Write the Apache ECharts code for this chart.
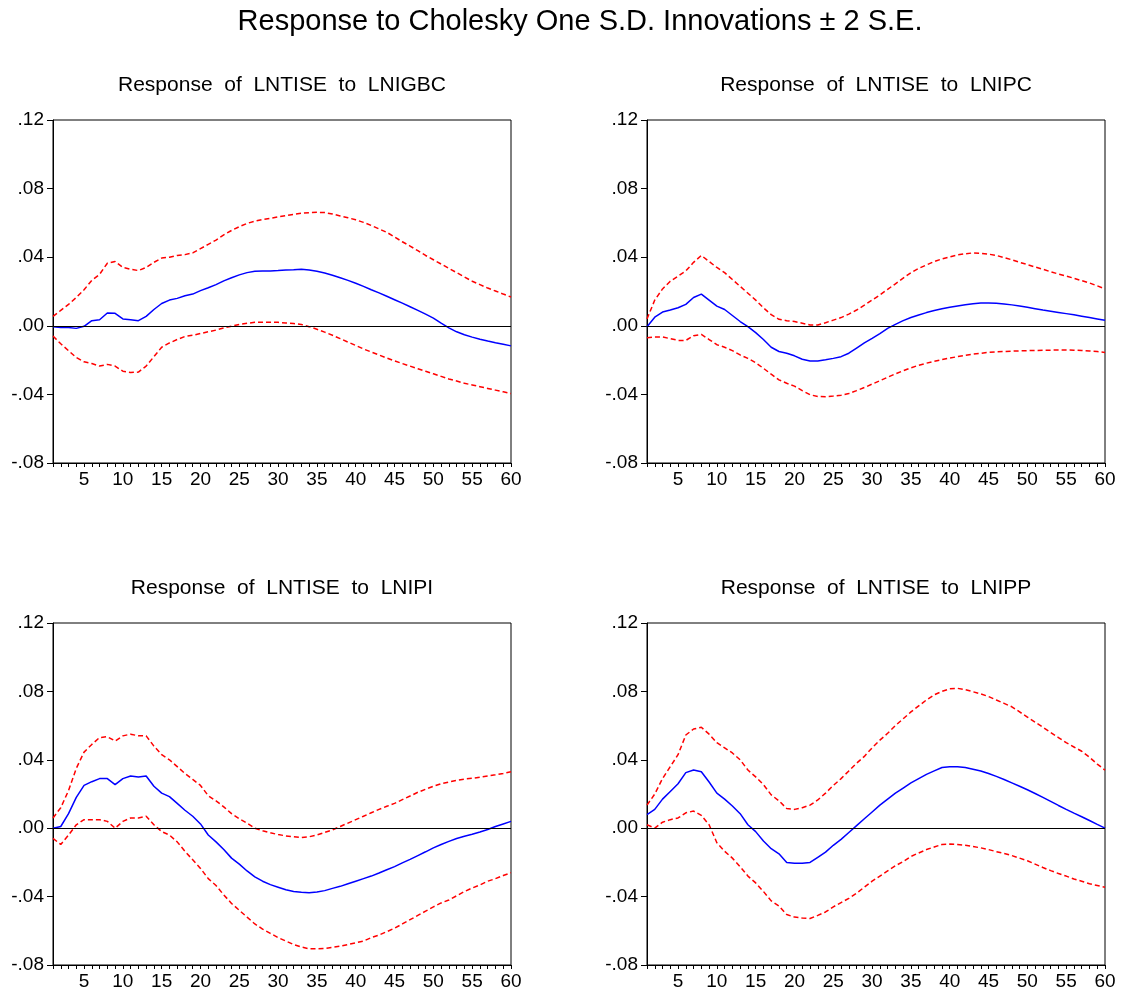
<!DOCTYPE html>
<html>
<head>
<meta charset="utf-8">
<script src="https://cdn.jsdelivr.net/npm/echarts@6/dist/echarts.min.js"></script>
<style>
html,body{margin:0;padding:0;background:#fff;}
#chart{width:1125px;height:996px;}
</style>
</head>
<body>
<div id="chart"></div>
<script>
const mainTitle = 'Response to Cholesky One S.D. Innovations \u00b1 2 S.E.';
const panelTitles = [
  'Response  of  LNTISE  to  LNIGBC',
  'Response  of  LNTISE  to  LNIPC',
  'Response  of  LNTISE  to  LNIPI',
  'Response  of  LNTISE  to  LNIPP'
];
const periods = Array.from({length: 60}, (_, i) => i + 1);
const yTicks = [-0.08, -0.04, 0, 0.04, 0.08, 0.12];

// Panel 1: LNIGBC
const irfIGBC = [-0.0005,-0.001,-0.001,-0.0015,-0.0003,0.003,0.0035,0.0075,0.0073,0.004,
  0.0035,0.003,0.0055,0.0095,0.013,0.015,0.016,0.0175,0.0185,0.0205,
  0.0222,0.024,0.0262,0.028,0.0297,0.031,0.0318,0.032,0.032,0.0322,
  0.0325,0.0327,0.033,0.0326,0.0318,0.0308,0.0295,0.028,0.0265,0.0248,
  0.023,0.021,0.0192,0.0172,0.0152,0.0132,0.0111,0.009,0.0068,0.0045,
  0.0015,-0.0012,-0.0035,-0.0052,-0.0066,-0.0078,-0.0089,-0.0099,-0.0108,-0.0117];
const upIGBC = [0.0055,0.009,0.0125,0.0165,0.021,0.0265,0.030,0.0365,0.0375,0.034,
  0.033,0.0322,0.034,0.037,0.0395,0.040,0.041,0.0415,0.0425,0.045,
  0.0475,0.050,0.053,0.0556,0.0578,0.0597,0.061,0.062,0.0627,0.0635,
  0.0643,0.065,0.0656,0.066,0.0662,0.066,0.0652,0.064,0.063,0.0618,
  0.0603,0.0585,0.0565,0.0545,0.0518,0.049,0.0465,0.0438,0.041,0.0385,
  0.036,0.0335,0.031,0.0285,0.026,0.024,0.022,0.0203,0.0185,0.0168];
const loIGBC = [-0.006,-0.0105,-0.0145,-0.0185,-0.021,-0.022,-0.0235,-0.0225,-0.0235,-0.0265,
  -0.0272,-0.027,-0.0235,-0.018,-0.0125,-0.010,-0.008,-0.0062,-0.0055,-0.0045,
  -0.0035,-0.0025,-0.0012,-0.0002,0.0008,0.0015,0.002,0.002,0.002,0.002,
  0.0017,0.0013,0.0008,-0.0005,-0.002,-0.0037,-0.0055,-0.0075,-0.0095,-0.0115,
  -0.0135,-0.0153,-0.017,-0.0188,-0.0205,-0.022,-0.0235,-0.025,-0.0265,-0.028,
  -0.0295,-0.031,-0.0322,-0.0335,-0.0345,-0.0355,-0.0365,-0.0375,-0.0385,-0.0395];

// Panel 2: LNIPC
const irfIPC = [-0.0005,0.005,0.008,0.0092,0.0105,0.0125,0.0165,0.0185,0.015,0.0115,
  0.0095,0.006,0.0025,-0.0005,-0.004,-0.008,-0.0125,-0.015,-0.016,-0.0175,
  -0.0195,-0.0205,-0.0205,-0.0198,-0.019,-0.018,-0.016,-0.013,-0.010,-0.0073,
  -0.0045,-0.0015,0.0008,0.003,0.0048,0.0063,0.0077,0.0089,0.0099,0.0108,
  0.0116,0.0123,0.0129,0.0133,0.0133,0.0131,0.0127,0.0122,0.0115,0.0108,
  0.010,0.0092,0.0085,0.0078,0.0071,0.0064,0.0056,0.0048,0.004,0.0032];
const upIPC = [0.004,0.015,0.0215,0.026,0.029,0.032,0.037,0.041,0.0375,0.034,
  0.031,0.027,0.023,0.019,0.015,0.0105,0.0065,0.0038,0.003,0.0025,
  0.0015,0.0005,0.0005,0.0018,0.0033,0.0048,0.0068,0.0092,0.012,0.015,
  0.018,0.0213,0.0245,0.0278,0.031,0.0335,0.0355,0.0375,0.039,0.0402,
  0.0413,0.042,0.0425,0.0423,0.0418,0.041,0.0398,0.0385,0.037,0.0357,
  0.0343,0.033,0.0315,0.0302,0.029,0.0277,0.0263,0.025,0.0233,0.0215];
const loIPC = [-0.007,-0.0065,-0.0065,-0.0075,-0.0085,-0.0085,-0.0058,-0.005,-0.008,-0.011,
  -0.0125,-0.0145,-0.017,-0.019,-0.0215,-0.0248,-0.0282,-0.0315,-0.0335,-0.0352,
  -0.0378,-0.0402,-0.0412,-0.0413,-0.041,-0.0405,-0.0395,-0.0378,-0.036,-0.034,
  -0.032,-0.030,-0.028,-0.0262,-0.0245,-0.023,-0.0218,-0.0207,-0.0197,-0.0188,
  -0.018,-0.0172,-0.0165,-0.016,-0.0155,-0.0152,-0.015,-0.0148,-0.0146,-0.0145,
  -0.0144,-0.0143,-0.0142,-0.0141,-0.0141,-0.0142,-0.0144,-0.0147,-0.015,-0.0155];

// Panel 3: LNIPI
const irfIPI = [0.0,0.001,0.0085,0.018,0.025,0.0272,0.029,0.029,0.0255,0.029,
  0.0305,0.030,0.0305,0.0245,0.0205,0.0185,0.0145,0.0105,0.007,0.0025,
  -0.004,-0.008,-0.0125,-0.0175,-0.021,-0.025,-0.0285,-0.031,-0.033,-0.0345,
  -0.036,-0.037,-0.0375,-0.0378,-0.0373,-0.0365,-0.0352,-0.034,-0.0325,-0.031,
  -0.0295,-0.028,-0.0262,-0.0243,-0.0225,-0.0203,-0.0182,-0.016,-0.0138,-0.0115,
  -0.0095,-0.0077,-0.006,-0.0047,-0.0035,-0.0022,-0.0008,0.001,0.0025,0.004];
const upIPI = [0.006,0.012,0.022,0.035,0.0445,0.049,0.053,0.0535,0.051,0.054,
  0.055,0.054,0.054,0.048,0.043,0.040,0.036,0.032,0.0285,0.025,
  0.019,0.016,0.0125,0.0085,0.0055,0.003,0.0,-0.0015,-0.0027,-0.0037,
  -0.0045,-0.005,-0.0055,-0.005,-0.004,-0.0025,-0.001,0.001,0.003,0.005,
  0.007,0.009,0.011,0.0128,0.0145,0.0167,0.0188,0.021,0.0228,0.0245,
  0.026,0.027,0.028,0.0287,0.0292,0.0298,0.0305,0.0312,0.032,0.033];
const loIPI = [-0.006,-0.0095,-0.004,0.002,0.005,0.005,0.005,0.004,0.0,0.004,
  0.006,0.006,0.007,0.002,-0.002,-0.004,-0.008,-0.0135,-0.0185,-0.0235,
  -0.0295,-0.0335,-0.039,-0.044,-0.048,-0.052,-0.056,-0.059,-0.0615,-0.064,
  -0.066,-0.068,-0.0695,-0.0705,-0.0705,-0.0703,-0.0697,-0.069,-0.068,-0.067,
  -0.066,-0.064,-0.0625,-0.0605,-0.0585,-0.056,-0.0535,-0.051,-0.0485,-0.046,
  -0.0437,-0.042,-0.0395,-0.037,-0.035,-0.0332,-0.031,-0.0295,-0.0277,-0.026];

// Panel 4: LNIPP
const irfIPP = [0.008,0.011,0.017,0.0215,0.026,0.0325,0.034,0.033,0.027,0.0205,
  0.017,0.013,0.0085,0.002,-0.002,-0.0075,-0.012,-0.015,-0.020,-0.0205,
  -0.0205,-0.020,-0.017,-0.014,-0.010,-0.0065,-0.0025,0.0015,0.0055,0.0095,
  0.0135,0.017,0.0205,0.0235,0.0265,0.029,0.0315,0.0335,0.0355,0.036,
  0.036,0.0355,0.0345,0.0335,0.032,0.0303,0.0285,0.0265,0.0245,0.0225,
  0.0203,0.018,0.0157,0.0133,0.011,0.0088,0.0067,0.0045,0.0022,0.0];
const upIPP = [0.0135,0.020,0.029,0.036,0.043,0.0545,0.058,0.059,0.055,0.050,
  0.047,0.044,0.040,0.034,0.030,0.0255,0.0195,0.016,0.0115,0.011,
  0.012,0.0135,0.0165,0.0205,0.025,0.029,0.0335,0.038,0.042,0.047,
  0.0515,0.0555,0.060,0.064,0.068,0.0715,0.075,0.078,0.080,0.0815,
  0.0818,0.081,0.0798,0.0785,0.077,0.075,0.073,0.071,0.068,0.065,
  0.062,0.059,0.056,0.053,0.050,0.0475,0.045,0.0415,0.0375,0.034];
const loIPP = [0.002,0.0,0.0035,0.005,0.006,0.009,0.010,0.0075,0.002,-0.0085,
  -0.0135,-0.0175,-0.0225,-0.028,-0.032,-0.037,-0.0425,-0.0455,-0.0505,-0.052,
  -0.0525,-0.0528,-0.051,-0.049,-0.046,-0.0435,-0.041,-0.038,-0.0345,-0.031,
  -0.028,-0.025,-0.022,-0.0195,-0.0165,-0.0145,-0.0125,-0.011,-0.0095,-0.0093,
  -0.0095,-0.010,-0.0107,-0.0115,-0.0125,-0.0137,-0.0148,-0.016,-0.0175,-0.019,
  -0.021,-0.023,-0.0248,-0.0265,-0.028,-0.0297,-0.031,-0.0325,-0.0335,-0.0345];

const panels = [
  {title: panelTitles[0], irf: irfIGBC, up: upIGBC, lo: loIGBC},
  {title: panelTitles[1], irf: irfIPC, up: upIPC, lo: loIPC},
  {title: panelTitles[2], irf: irfIPI, up: upIPI, lo: loIPI},
  {title: panelTitles[3], irf: irfIPP, up: upIPP, lo: loIPP}
];

const FONT = 'Arial, "Liberation Sans", sans-serif';
const gridPos = [
  {left: 53, top: 120, width: 458, height: 343},
  {left: 647, top: 120, width: 458, height: 343},
  {left: 53, top: 623, width: 458, height: 342},
  {left: 647, top: 623, width: 458, height: 342}
];
const titleTop = [70, 70, 573, 573];

function pairs(arr) { return periods.map((p, i) => [p, arr[i]]); }
function fmtY(v) {
  const s = Number(v).toFixed(2);
  return s.replace('0.', '.');
}

const option = {
  animation: false,
  backgroundColor: '#ffffff',
  title: [{
    text: mainTitle, left: 575, top: 2, textAlign: 'center',
    textStyle: {fontFamily: FONT, fontSize: 29, fontWeight: 'normal', color: '#000'}
  }].concat(panels.map((p, i) => ({
    text: p.title,
    left: gridPos[i].left + gridPos[i].width / 2 - 5,
    top: titleTop[i],
    textAlign: 'center',
    textStyle: {fontFamily: FONT, fontSize: 21, fontWeight: 'normal', color: '#000'}
  }))),
  grid: gridPos.map(g => Object.assign({show: true, borderColor: '#000', borderWidth: 1, backgroundColor: 'transparent', containLabel: false}, g)),
  xAxis: gridPos.map((g, i) => ({
    type: 'value', gridIndex: i, min: 1, max: 60, interval: 1,
    axisLine: {show: true, onZero: false, lineStyle: {color: '#000', width: 1}},
    axisTick: {show: true, length: 4, lineStyle: {color: '#000'}},
    axisLabel: {
      formatter: v => (v % 5 === 0 ? String(v) : ''),
      color: '#000', fontSize: 19, fontFamily: FONT, margin: 7
    },
    splitLine: {show: false}
  })),
  yAxis: gridPos.map((g, i) => ({
    type: 'value', gridIndex: i, min: yTicks[0], max: yTicks[yTicks.length - 1], interval: 0.04,
    axisLine: {show: true, lineStyle: {color: '#000', width: 1}},
    axisTick: {show: true, length: 6, lineStyle: {color: '#000'}},
    axisLabel: {formatter: fmtY, color: '#000', fontSize: 19, fontFamily: FONT, margin: 9},
    splitLine: {show: false}
  })),
  series: []
};

panels.forEach((p, i) => {
  option.series.push({
    type: 'line', xAxisIndex: i, yAxisIndex: i, data: pairs(p.irf),
    symbol: 'none', lineStyle: {color: '#0000ff', width: 1.5}, z: 3,
    markLine: {
      silent: true, symbol: 'none', label: {show: false},
      lineStyle: {color: '#000', type: 'solid', width: 1},
      data: [{yAxis: 0}]
    }
  });
  option.series.push({
    type: 'line', xAxisIndex: i, yAxisIndex: i, data: pairs(p.up),
    symbol: 'none', lineStyle: {color: '#ff0000', width: 1.5, type: [5, 3]}, z: 2
  });
  option.series.push({
    type: 'line', xAxisIndex: i, yAxisIndex: i, data: pairs(p.lo),
    symbol: 'none', lineStyle: {color: '#ff0000', width: 1.5, type: [5, 3]}, z: 2
  });
});

const chart = echarts.init(document.getElementById('chart'), null, {renderer: 'canvas'});
chart.setOption(option);
</script>
</body>
</html>
